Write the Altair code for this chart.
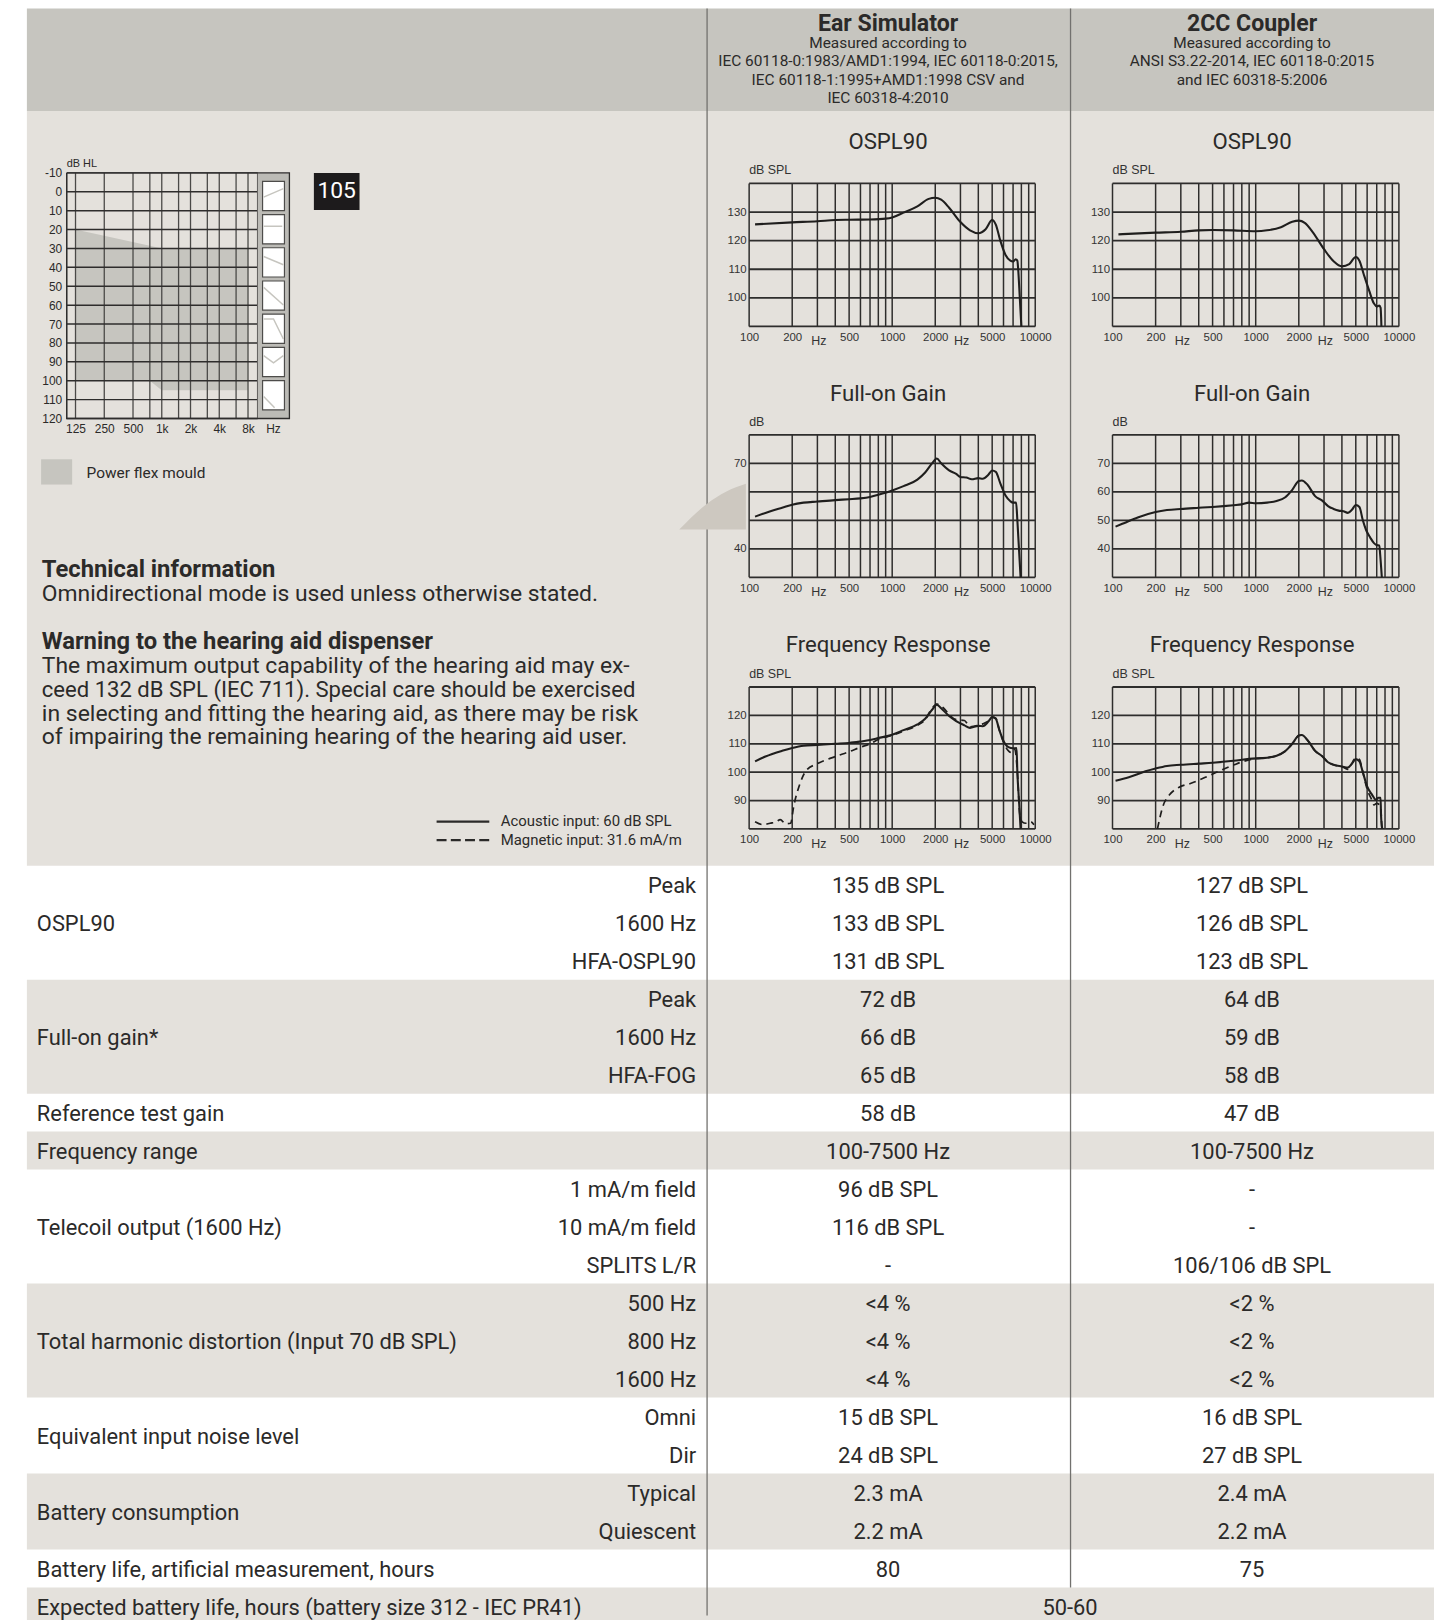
import altair as alt
import pandas as pd

# ---------- curves: frequency (Hz) / level (dB) ----------
freq_grid = [100,200,300,400,500,600,700,800,900,1000,2000,3000,4000,5000,6000,7000,8000,9000,10000]
freq_labels = [100,200,500,1000,2000,5000,10000]

ospl_ear_f = [110,200,300,400,500,700,900,1000,1200,1500,1800,2000,2200,2500,3000,3500,4000,4500,5000,5300,5700,6200,6700,7000,7300,7500,7600,7800,8000]
ospl_ear_v = [125.7,126.4,126.8,127.2,127.3,127.4,127.7,128.1,129.8,132,134.6,135,134.3,131.5,126.5,123.6,122.6,124,127.2,125.6,120,115,113,112.7,113.5,113,110,100,90]
ospl_cpl_f = [110,200,300,400,500,700,1000,1200,1500,1800,2000,2200,2500,3000,3500,4000,4500,5000,5300,5700,6200,6700,7000,7300,7450,7550]
ospl_cpl_v = [122.2,122.8,123.1,123.6,123.7,123.6,123.3,123.6,124.7,126.6,127,126.2,123,117,112.8,111,111.8,114.3,113,108,102.5,98,97,97.3,96.5,90]

fog_ear_f = [110,130,150,170,200,240,300,400,500,600,700,800,1000,1200,1500,1700,1900,2050,2200,2500,2800,3000,3300,3600,4000,4300,4700,5000,5300,5700,6200,6700,7000,7350,7500,7900]
fog_ear_v = [51.3,52.6,53.6,54.4,55.5,56.2,56.6,57.1,57.4,57.7,58.2,59,60.5,62,64.3,66.8,70,71.7,70,67.5,66.3,65.2,65,64.4,64.8,64.6,66,67.5,67,63,58.7,56.7,56.2,56.2,50,30]
fog_cpl_f = [105,120,150,200,240,300,400,500,700,800,900,1000,1200,1400,1600,1800,2000,2100,2300,2600,2900,3200,3500,3800,4100,4400,4700,5000,5300,5600,5900,6300,6700,7000,7300,7400,7600]
fog_cpl_v = [47.8,49,51,52.9,53.6,54,54.4,54.7,55.3,55.6,56.2,56,56.2,56.8,58,60.7,63.8,64,62.5,58.5,57,55,54,53.4,53.2,52.6,53.7,55.4,54.7,50,46.6,44,42,41.3,41.2,38,30]

fr_ear_f = [110,130,170,200,240,300,400,500,600,700,800,1000,1200,1500,1700,1900,2050,2200,2500,2800,3200,3500,4000,4300,4700,5000,5300,5600,6000,6500,7000,7400,7500,7700,7900]
fr_ear_v = [103.8,105.5,107.5,108.5,109.3,109.6,110,110.3,110.8,111.3,112,113.2,114.8,116.8,118.8,122,123.8,122.5,119.8,118,116.5,115.6,116.3,116.2,117.8,119.4,118.8,115,111,108.8,108.4,108.5,100,90,80]
fr_ear_mag_f = [110,125,140,155,165,180,195,205,225,250,300,400,500,600,700,800,1000,1200,1500,1700,1900,2050,2300,2500,2800,3200,3500,4000,4300,4700,5000,5300,5600,6000,6500,6900,7200,7500,7800,8100,8600,9300,9800]
fr_ear_mag_v = [82.5,81.5,82,82.5,83.3,81.8,82,88,95.5,100.5,103,105.5,107.2,108.8,110,111.5,113,114.5,116.5,118.5,122.5,124,122.5,120.3,118.5,118.2,116,116.5,117,118,119.4,119,115,110.5,107.5,106.8,108,100,85,82.5,82,82.5,81.5]
fr_cpl_f = [105,130,170,200,240,300,400,500,700,900,1200,1400,1600,1800,2000,2100,2300,2600,2900,3200,3500,4000,4400,4700,5000,5300,5600,6000,6500,6900,7200,7450,7500,7650]
fr_cpl_v = [97,98.2,100.3,101.3,102.2,102.6,103,103.3,104,104.7,105.1,105.8,107.3,110,112.9,113.1,111.3,107.5,105.7,103.5,102.6,102,101.6,103,104.6,103.8,100,95,92,90.3,91,91,85,80]
fr_cpl_mag_f = [206,225,250,290,350,450,550,700,800,1000,1200,1400,1600,1800,2000,2100,2300,2600,2900,3200,3500,4000,4400,5000,5300,5600,6000,6500,6700,7000,7450,7600]
fr_cpl_mag_v = [80,88,92,94.6,96,98.3,100.3,102.5,103.6,104.8,105.1,105.8,107.3,110,112.9,113.1,111.3,107.5,105.7,103.5,102.6,102,101,105,104.5,100,94,90,88.5,89,88,80]

# ---------- audiogram ----------
aud_db_lines = [0,10,20,30,40,50,60,70,80,90,100,110]
aud_db_labels = [-10,0,10,20,30,40,50,60,70,80,90,100,110,120]
aud_freq_lines = [125,250,500,750,1000,1500,2000,3000,4000,6000,8000]
aud_freq_labels = [125,250,500,1000,2000,4000,8000]
aud_fit_f = [125,750,1000,8000]
aud_fit_top = [20,28.6,30,30]
aud_fit_bot = [100,100,105,105]
icon_u = [[.05,.95],[.05,.9],[.05,.95],[.05,.95],[.05,.5,.95],[.05,.5,.95],[.05,.55]]
icon_v = [[.54,.25],[.4,.4],[.3,.58],[.22,.82],[.16,.16,.85],[.28,.53,.28],[.54,.93]]

# ---------- table ----------
group_labels = ["OSPL90","Full-on gain*","Reference test gain","Frequency range","Telecoil output (1600 Hz)",
                "Total harmonic distortion (Input 70 dB SPL)","Equivalent input noise level","Battery consumption",
                "Battery life, artificial measurement, hours","Expected battery life, hours (battery size 312 - IEC PR41)"]
group_rows = [3,3,1,1,3,3,2,2,1,1]
sub_labels = ["Peak","1600 Hz","HFA-OSPL90","Peak","1600 Hz","HFA-FOG","","","1 mA/m field","10 mA/m field","SPLITS L/R",
              "500 Hz","800 Hz","1600 Hz","Omni","Dir","Typical","Quiescent","",""]
ear_values = ["135 dB SPL","133 dB SPL","131 dB SPL","72 dB","66 dB","65 dB","58 dB","100-7500 Hz","96 dB SPL","116 dB SPL","-",
              "<4 %","<4 %","<4 %","15 dB SPL","24 dB SPL","2.3 mA","2.2 mA","80"]
cpl_values = ["127 dB SPL","126 dB SPL","123 dB SPL","64 dB","59 dB","58 dB","47 dB","100-7500 Hz","-","-","106/106 dB SPL",
              "<2 %","<2 %","<2 %","16 dB SPL","27 dB SPL","2.4 mA","2.2 mA","75"]
merged_value = "50-60"

INK = "#2b2a29"
GRID = "#2e2d2c"
HEAD = "#c6c5bf"
PANEL = "#e4e1dc"
FONT = "Roboto"
AX = "Liberation Sans"
W, H = 1434, 1612
PX = alt.Scale(domain=[0, 1442], range=[-8, 1434])
PY = alt.Scale(domain=[0, 1620], range=[-8, 1612])

def page_rect(rows, color):
    d = pd.DataFrame(rows, columns=["a", "b", "c", "d"])
    return alt.Chart(d).mark_rect(color=color).encode(
        x=alt.X("a:Q", scale=PX, axis=None), x2="b:Q",
        y=alt.Y("c:Q", scale=PY, axis=None), y2="d:Q")

def page_text(rows, size, align="left", weight="normal", font=FONT, color=INK):
    d = pd.DataFrame(rows, columns=["x", "y", "t"])
    return alt.Chart(d).mark_text(fontSize=size, align=align, baseline="middle", fontWeight=weight,
                                  font=font, color=color).encode(
        x=alt.X("x:Q", scale=PX, axis=None), y=alt.Y("y:Q", scale=PY, axis=None), text="t:N")

def page_vline(x, y0, y1):
    d = pd.DataFrame({"x": [x], "a": [y0], "b": [y1]})
    return alt.Chart(d).mark_rule(color="#72716e", strokeWidth=1.3).encode(
        x=alt.X("x:Q", scale=PX, axis=None), y=alt.Y("a:Q", scale=PY, axis=None), y2="b:Q")

# ---------- page backgrounds and texts ----------
TOP, ROW_H = 866, 38.2
EC, CC = 893, 1259
bands = []
start = 0
shade = [False, True, False, True, False, True, False, True, False, True]
for n, s in zip(group_rows, shade):
    if s:
        bands.append((27, 1442, TOP + start * ROW_H, TOP + (start + n) * ROW_H))
    start += n

page = [
    page_rect([(27, 1442, 4, 107)], HEAD),
    page_rect([(27, 1442, 107, 866)], PANEL),
    page_rect(bands, PANEL),
    page_vline(711, 4, 1620),
    page_vline(1076.5, 4, TOP + 19 * ROW_H),
    page_text([(EC, 19.5, "Ear Simulator"), (CC, 19.5, "2CC Coupler")], 23.2, "center", "bold"),
    page_text([(EC, 38.7, "Measured according to"),
               (EC, 56.7, "IEC 60118-0:1983/AMD1:1994, IEC 60118-0:2015,"),
               (EC, 75.7, "IEC 60118-1:1995+AMD1:1998 CSV and"),
               (EC, 94.3, "IEC 60318-4:2010"),
               (CC, 38.7, "Measured according to"),
               (CC, 56.7, "ANSI S3.22-2014, IEC 60118-0:2015"),
               (CC, 75.7, "and IEC 60318-5:2006")], 15.5, "center"),
    page_text([(c, y, t) for c in (EC, CC)
               for y, t in ((138.6, "OSPL90"), (392, "Full-on Gain"), (644, "Frequency Response"))], 22.3, "center"),
    page_text([(42, 568.3, "Technical information"), (42, 640.7, "Warning to the hearing aid dispenser")], 23.9, "left", "bold"),
    page_text([(42, 593, "Omnidirectional mode is used unless otherwise stated."),
               (42, 665, "The maximum output capability of the hearing aid may ex-"),
               (42, 736.7, "of impairing the remaining hearing of the hearing aid user.")], 23),
    page_text([(42, 689, "ceed 132 dB SPL (IEC 711). Special care should be exercised")], 22.2),
    page_text([(42, 713, "in selecting and fitting the hearing aid, as there may be risk")], 23.1),
    page_text([(503.5, 820.7, "Acoustic input: 60 dB SPL"), (503.5, 839.7, "Magnetic input: 31.6 mA/m")], 15),
    page_text([(87, 470.7, "Power flex mould")], 15.5),
    page_rect([(41.3, 72.5, 457.3, 482.7)], HEAD),
    page_rect([(315.6, 361.5, 169.3, 206.7)], "#1d1b1c"),
    page_text([(338.5, 188, "105")], 23, "center", color="#ffffff"),
    alt.Chart(pd.DataFrame({"x": [439, 492], "y": [821.7, 821.7]})).mark_line(color=INK, strokeWidth=2.2).encode(
        x=alt.X("x:Q", scale=PX, axis=None), y=alt.Y("y:Q", scale=PY, axis=None)),
    alt.Chart(pd.DataFrame({"x": [439, 492], "y": [840.3, 840.3]})).mark_line(color=INK, strokeWidth=2.2, strokeDash=[10, 4.3]).encode(
        x=alt.X("x:Q", scale=PX, axis=None), y=alt.Y("y:Q", scale=PY, axis=None)),
]
page_layer = alt.layer(*page)

# ---------- table ----------
RY = alt.Scale(domain=[0, 20], range=[TOP - 8, TOP + 20 * ROW_H - 8])
def table_text(x, rows, texts, align):
    d = pd.DataFrame({"x": x, "r": rows, "t": texts})
    return alt.Chart(d).mark_text(fontSize=22, align=align, baseline="middle", font=FONT, color=INK, dy=1.5).encode(
        x=alt.X("x:Q", scale=PX, axis=None), y=alt.Y("r:Q", scale=RY, axis=None), text="t:N")

centers, s = [], 0
for n in group_rows:
    centers.append(s + n / 2)
    s += n
row_mid = [i + 0.5 for i in range(20)]
table_layer = alt.layer(
    table_text(37, centers, group_labels, "left"),
    table_text(700, row_mid, sub_labels, "right"),
    table_text(EC, row_mid[:19], ear_values, "center"),
    table_text(CC, row_mid[:19], cpl_values, "center"),
    table_text(1076, [19.5], [merged_value], "center"),
)

# ---------- audiogram ----------
AXS = alt.Scale(type="log", domain=[101, 10080], range=[59, 251])
AYS = alt.Scale(domain=[-10, 120], range=[161.3, 408.3])
a_fit = pd.DataFrame({"f": aud_fit_f, "t": aud_fit_top, "b": aud_fit_bot})
a_v = pd.DataFrame({"f": aud_freq_lines, "a": -10, "b": 120})
a_h = pd.DataFrame({"v": aud_db_lines, "a": 101, "b": 10080})
a_frame_v = pd.DataFrame({"f": [101, 10080], "a": -10, "b": 120})
a_frame_h = pd.DataFrame({"v": [-10, 120], "a": 101, "b": 10080})
aud_x_axis = alt.Axis(orient="bottom", offset=408.3 - H, values=aud_freq_labels, domain=False, ticks=False, grid=False,
                      labelFont=AX, labelFontSize=12, labelColor=INK, labelPadding=5, title=None, zindex=1,
                      labelExpr="datum.value >= 1000 ? (datum.value / 1000) + 'k' : datum.value", labelFlush=False, labelOverlap=False)
aud_y_axis = alt.Axis(orient="left", offset=-59, values=aud_db_labels, domain=False, ticks=False, grid=False,
                      labelFont=AX, labelFontSize=12, labelColor=INK, labelPadding=5, title=None, zindex=1,
                      labelExpr="'' + datum.value", labelFlush=False, labelOverlap=False)
aud_layer = alt.layer(
    alt.Chart(a_fit).mark_area(color=HEAD, interpolate="linear").encode(
        x=alt.X("f:Q", scale=AXS, axis=aud_x_axis),
        y=alt.Y("t:Q", scale=AYS, axis=aud_y_axis), y2="b:Q"),
    alt.Chart(a_v).mark_rule(color="#4a4947", strokeWidth=1.3).encode(
        x=alt.X("f:Q", scale=AXS, axis=aud_x_axis), y=alt.Y("a:Q", scale=AYS, axis=aud_y_axis), y2="b:Q"),
    alt.Chart(a_h).mark_rule(color=GRID, strokeWidth=1.5).encode(
        y=alt.Y("v:Q", scale=AYS, axis=aud_y_axis), x=alt.X("a:Q", scale=AXS, axis=aud_x_axis), x2="b:Q"),
    alt.Chart(a_frame_v).mark_rule(color=GRID, strokeWidth=1.3).encode(
        x=alt.X("f:Q", scale=AXS, axis=aud_x_axis), y=alt.Y("a:Q", scale=AYS, axis=aud_y_axis), y2="b:Q"),
    alt.Chart(a_frame_h).mark_rule(color=GRID, strokeWidth=1.3).encode(
        y=alt.Y("v:Q", scale=AYS, axis=aud_y_axis), x=alt.X("a:Q", scale=AXS, axis=aud_x_axis), x2="b:Q"),
    alt.Chart(pd.DataFrame({"f": [101], "v": [-10], "t": ["dB HL"]})).mark_text(
        font=AX, fontSize=11, align="left", baseline="middle", dy=-9, color=INK).encode(
        x=alt.X("f:Q", scale=AXS, axis=aud_x_axis), y=alt.Y("v:Q", scale=AYS, axis=aud_y_axis), text="t:N"),
)

strip = alt.layer(
    page_rect([(259, 291, 169.3, 416.3)], "#bcbbb6"),
    page_text([(275, 427, "Hz")], 12, "center", font=AX),
    alt.Chart(pd.DataFrame({"x": [67, 291, 291, 67, 67], "y": [169.3, 169.3, 416.3, 416.3, 169.3], "o": range(5)})).mark_line(
        color=GRID, strokeWidth=1.3).encode(
        x=alt.X("x:Q", scale=PX, axis=None), y=alt.Y("y:Q", scale=PY, axis=None), order="o:Q"),
)

IX = alt.Scale(domain=[0, 1], range=[256, 278])
IY = alt.Scale(domain=[0, 7], range=[169.8, 169.8 + 7 * 33.4])
i_box = pd.DataFrame({"a": [0] * 7, "b": [1] * 7, "c": list(range(7)), "d": [i + 0.88 for i in range(7)]})
i_rows = [{"i": i, "u": u, "y": i + v * 0.88, "o": k}
          for i, (us, vs) in enumerate(zip(icon_u, icon_v)) for k, (u, v) in enumerate(zip(us, vs))]
icons = alt.layer(
    alt.Chart(i_box).mark_rect(color="#ffffff", stroke="#4d4c4a", strokeWidth=1.2).encode(
        x=alt.X("a:Q", scale=IX, axis=None), x2="b:Q", y=alt.Y("c:Q", scale=IY, axis=None), y2="d:Q"),
    alt.Chart(pd.DataFrame(i_rows)).mark_line(color="#c6c5bf", strokeWidth=1.5).encode(
        x=alt.X("u:Q", scale=IX, axis=None), y=alt.Y("y:Q", scale=IY, axis=None), detail="i:N", order="o:Q"),
)

# ---------- small charts ----------
def small(x0, x1, yt, yb, lo, hi, ticks, unit, f1, v1, f2=None, v2=None):
    XS = alt.Scale(type="log", domain=[100, 10000], range=[x0 - 8, x1 - 8])
    YS = alt.Scale(domain=[lo, hi], range=[yb - 8, yt - 8])
    xa = alt.Axis(orient="bottom", offset=(yb - 8) - H, values=freq_labels, domain=False, ticks=False, grid=False,
                  labelFont=AX, labelFontSize=11.5, labelColor="#333333", labelPadding=5, title=None, zindex=1,
                  labelFlush=False, labelOverlap=False, format="d")
    ya = alt.Axis(orient="left", offset=-(x0 - 8), values=ticks, domain=False, ticks=False, grid=False,
                  labelFont=AX, labelFontSize=11.5, labelColor="#333333", labelPadding=3, title=None, zindex=1,
                  labelFlush=False, labelOverlap=False, format="d")
    X = alt.X("f:Q", scale=XS, axis=xa)
    Y = alt.Y("v:Q", scale=YS, axis=ya)
    grid_v = pd.DataFrame({"f": freq_grid, "a": lo, "b": hi})
    lines_h = pd.DataFrame({"v": list(range(lo, hi + 1, 10)), "a": 100, "b": 10000})
    layers = [
        alt.Chart(grid_v).mark_rule(color=GRID, strokeWidth=1.5).encode(
            x=X, y=alt.Y("a:Q", scale=YS, axis=ya), y2="b:Q"),
        alt.Chart(lines_h).mark_rule(color=GRID, strokeWidth=1.8).encode(
            y=Y, x=alt.X("a:Q", scale=XS, axis=xa), x2="b:Q"),
        alt.Chart(pd.DataFrame({"f": f1, "v": v1})).mark_line(color="#1f1e1d", strokeWidth=2.1, interpolate="monotone").encode(
            x=X, y=Y),
        alt.Chart(pd.DataFrame({"f": [307, 3062], "v": [lo, lo], "t": ["Hz", "Hz"]})).mark_text(
            font=AX, fontSize=12.5, dy=15, baseline="middle", align="center", color="#333333").encode(
            x=X, y=Y, text="t:N"),
        alt.Chart(pd.DataFrame({"f": [100], "v": [hi], "t": [unit]})).mark_text(
            font=AX, fontSize=12.5, dy=-13, baseline="middle", align="left", color="#333333").encode(
            x=X, y=Y, text="t:N"),
    ]
    if f2 is not None:
        layers.append(
            alt.Chart(pd.DataFrame({"f": f2, "v": v2})).mark_line(color="#1f1e1d", strokeWidth=1.7, strokeDash=[7, 5], interpolate="monotone").encode(
                x=X, y=Y))
    return alt.layer(*layers)

EX = (753.3, 1041)
CX = (1118.7, 1406.7)
charts = [
    small(*EX, 179.9, 323.7, 90, 140, [100, 110, 120, 130], "dB SPL", ospl_ear_f, ospl_ear_v),
    small(*CX, 179.9, 323.7, 90, 140, [100, 110, 120, 130], "dB SPL", ospl_cpl_f, ospl_cpl_v),
    small(*EX, 432.7, 576, 30, 80, [40, 70], "dB", fog_ear_f, fog_ear_v),
    small(*CX, 432.7, 576, 30, 80, [40, 50, 60, 70], "dB", fog_cpl_f, fog_cpl_v),
    small(*EX, 686.3, 829, 80, 130, [90, 100, 110, 120], "dB SPL", fr_ear_f, fr_ear_v, fr_ear_mag_f, fr_ear_mag_v),
    small(*CX, 686.3, 829, 80, 130, [90, 100, 110, 120], "dB SPL", fr_cpl_f, fr_cpl_v, fr_cpl_mag_f, fr_cpl_mag_v),
]

curl = alt.Chart(pd.DataFrame({"x": [683, 711, 730, 750], "t": [528, 502, 490, 482], "b": [528, 528, 528, 528]})).mark_area(
    color="#cdc8c0", interpolate="monotone").encode(
    x=alt.X("x:Q", scale=PX, axis=None), y=alt.Y("t:Q", scale=PY, axis=None), y2="b:Q")

chart = alt.layer(page_layer, table_layer, aud_layer, strip, icons, *charts, curl).resolve_scale(
    x="independent", y="independent"
).properties(width=W, height=H, padding=0, background="#ffffff",
             autosize=alt.AutoSizeParams(type="none")).configure_view(stroke=None)

chart.save("out.html", embed_options={"renderer": "svg", "actions": False})
